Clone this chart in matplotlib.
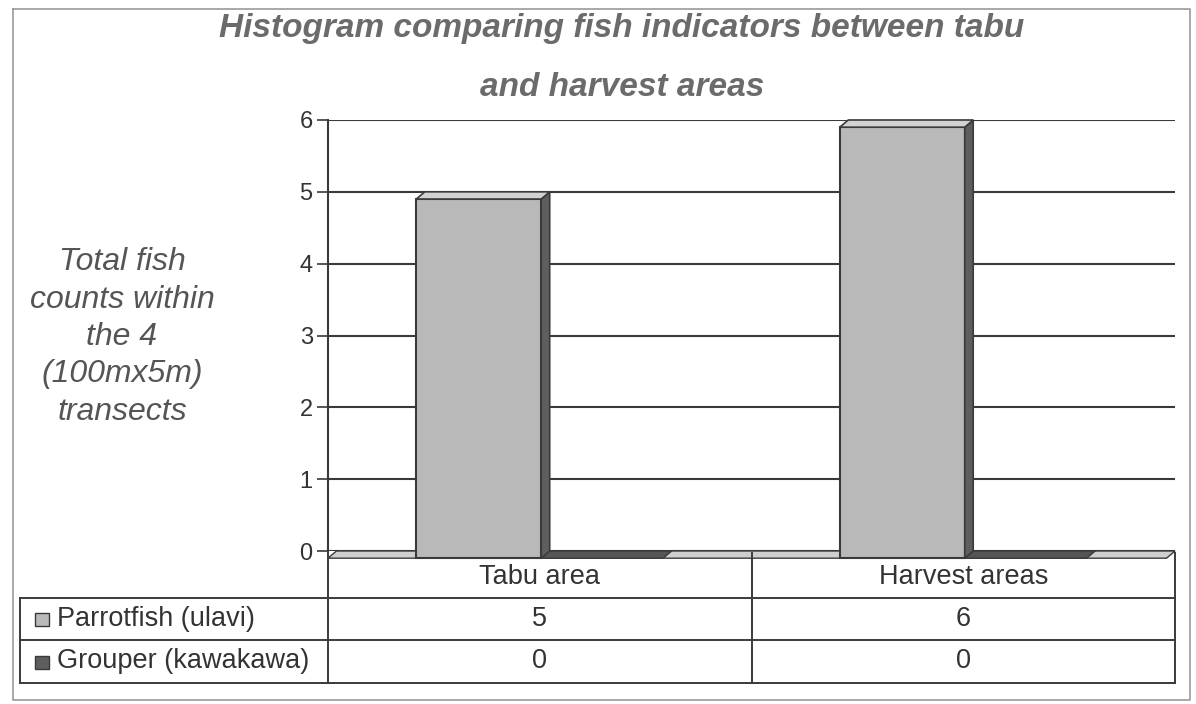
import matplotlib
matplotlib.use('Agg')
import matplotlib.pyplot as plt
from matplotlib.patches import Polygon, Rectangle
from matplotlib.lines import Line2D
import numpy as np

# data
categories = ['Tabu area', 'Harvest areas']
series_names = ['Parrotfish (ulavi)', 'Grouper (kawakawa)']
parrotfish = [5, 6]
grouper = [0, 0]
yticks = [0, 1, 2, 3, 4, 5, 6]

title_lines = ['Histogram comparing fish indicators between tabu', 'and harvest areas']
ylabel = 'Total fish\ncounts within\nthe 4\n(100mx5m)\ntransects'

plt.rcParams['font.family'] = ['Liberation Sans', 'DejaVu Sans']

W, H = 1196, 704
fig = plt.figure(figsize=(W / 100, H / 100), dpi=100)
fig.patch.set_facecolor('white')


def box(x0, y0, x1, y1):
    # pixel box (top-left origin) -> figure fraction rect
    return [x0 / W, 1 - y1 / H, (x1 - x0) / W, (y1 - y0) / H]


def fig_line(xs, ys, **kw):
    fig.add_artist(Line2D([x / W for x in xs], [1 - y / H for y in ys],
                          transform=fig.transFigure, **kw))


edge = '#3a3a3a'

# chart frame
fig_line([13, 1190, 1190, 13, 13], [9, 9, 700, 700, 9], color='#9a9a9a', lw=1.2)

ax = fig.add_axes(box(328, 120, 1175, 551))
ax.set_xlim(-0.5, 1.5)
ax.set_ylim(0, 6)
ax.set_yticks(yticks)
ax.set_xticks([])
ax.tick_params(axis='y', length=8, width=1.2, color=edge, labelsize=17,
               labelcolor='#333333', pad=3)
for s in ['top', 'right', 'bottom']:
    ax.spines[s].set_visible(False)
ax.spines['left'].set_color(edge)
ax.spines['left'].set_linewidth(1.5)
ax.yaxis.grid(True, color=edge, lw=1.5)
ax.set_axisbelow(True)

# 3D depth in data units
dx = 0.02
dy = 0.1
bw = 0.295
off = 0.134
x = np.arange(len(categories))

# floor
floor = Polygon([(-0.5, -dy), (1.5 - dx, -dy), (1.5, 0), (-0.5 + dx, 0)],
                closed=True, facecolor='#cfcfcf', edgecolor=edge, lw=1.0,
                clip_on=False, zorder=2)
ax.add_patch(floor)

# grouper (zero height) bars: only the top face shows
for xi, v in zip(x + off + 0.02, grouper):
    xl = xi - bw / 2 - dx / 2
    top = Polygon([(xl, v - dy), (xl + bw, v - dy), (xl + bw + dx, v), (xl + dx, v)],
                  closed=True, facecolor='#555555', edgecolor=edge, lw=1.0,
                  clip_on=False, zorder=3)
    ax.add_patch(top)

# parrotfish bars
bars = ax.bar(x - off - dx / 2, parrotfish, width=bw, bottom=-dy,
              color='#b9b9b9', edgecolor=edge, lw=1.5, zorder=4, clip_on=False)
for b in bars:
    xl = b.get_x()
    xr = xl + b.get_width()
    yt = b.get_y() + b.get_height()
    yb = b.get_y()
    side = Polygon([(xr, yb), (xr + dx, yb + dy), (xr + dx, yt + dy), (xr, yt)],
                   closed=True, facecolor='#5e5e5e', edgecolor=edge, lw=1.2,
                   clip_on=False, zorder=4)
    top = Polygon([(xl, yt), (xr, yt), (xr + dx, yt + dy), (xl + dx, yt + dy)],
                  closed=True, facecolor='#d2d2d2', edgecolor=edge, lw=1.2,
                  clip_on=False, zorder=4)
    ax.add_patch(side)
    ax.add_patch(top)

# title and axis label
for line, ty in zip(title_lines, [29, 87]):
    fig.text(622 / W, 1 - ty / H, line, ha='center', va='center', fontsize=24,
             fontweight='bold', fontstyle='italic', color='#6b6b6b')
fig.text(122 / W, 1 - 337 / H, ylabel, ha='center', va='center', fontsize=23,
         fontstyle='italic', color='#555555', linespacing=1.32)

# data table
col_edges = [ax.transData.transform((e, 0))[0] for e in (-0.5, 0.5, 1.5)]
row_y = [553, 598, 640, 683]
left_x = 20
lw_t = 1.4
for y in row_y[1:]:
    fig_line([left_x, col_edges[-1]], [y, y], color=edge, lw=lw_t)
for cx in col_edges:
    fig_line([cx, cx], [row_y[0], row_y[-1]], color=edge, lw=lw_t)
fig_line([left_x, left_x], [row_y[1], row_y[-1]], color=edge, lw=lw_t)

tsize = 19.5
for i, cat in enumerate(categories):
    cx = (col_edges[i] + col_edges[i + 1]) / 2
    fig.text(cx / W, 1 - ((row_y[0] + row_y[1]) / 2 + 2) / H, cat, ha='center',
             va='center', fontsize=tsize, color='#333333')
    for r, vals in enumerate([parrotfish, grouper]):
        cy = (row_y[r + 1] + row_y[r + 2]) / 2
        fig.text(cx / W, 1 - cy / H, str(vals[i]), ha='center', va='center',
                 fontsize=tsize, color='#333333')

key_colors = ['#b9b9b9', '#5e5e5e']
for r, name in enumerate(series_names):
    cy = (row_y[r + 1] + row_y[r + 2]) / 2
    fig.add_artist(Rectangle((35 / W, 1 - (cy + 7) / H), 14 / W, 13 / H,
                             transform=fig.transFigure, facecolor=key_colors[r],
                             edgecolor=edge, lw=1.0))
    fig.text(57 / W, 1 - cy / H, name, ha='left', va='center', fontsize=tsize,
             color='#333333')

fig.savefig('out.png', dpi=100)
